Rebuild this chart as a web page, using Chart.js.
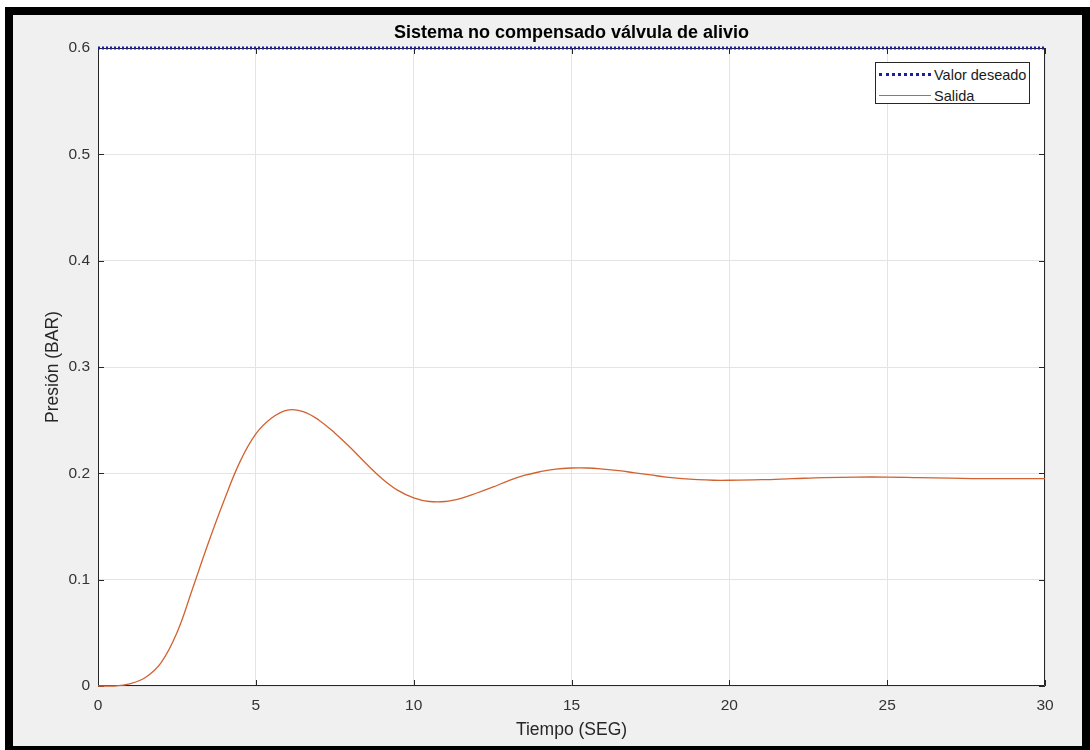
<!DOCTYPE html>
<html lang="es">
<head>
  <meta charset="UTF-8">
  <title>Sistema no compensado válvula de alivio</title>
  <script src="https://cdn.jsdelivr.net/npm/chart.js"></script>
  <style>
    html, body { margin: 0; padding: 0; background: #fff; overflow: hidden; }
    .marco { position: absolute; left: 5px; top: 7px; width: 1085px; height: 747px;
             box-sizing: border-box; border: 8px solid #000; background: #f0f0f0; }
    #grafico { position: absolute; left: 0; top: 0; }
    .leyenda { position: absolute; left: 875px; top: 62px; width: 155px; height: 42px;
               box-sizing: border-box; border: 1px solid #262626; background: #fff;
               font-family: "Liberation Sans", Arial, sans-serif; font-size: 14.5px; color: #1a1a1a; }
    .leyenda div { display: flex; align-items: center; height: 19px; margin-top: 2px; }
    .leyenda span.linea { display: inline-block; width: 52px; margin: 0 3px 0 3px; }
  </style>
</head>
<body>
  <div class="marco"></div>
  <canvas id="grafico" width="1090" height="750"></canvas>
  <div class="leyenda" id="leyenda"></div>

  <script>
    // datos
    const tiempo = [0, 0.5, 1, 1.5, 2, 2.5, 3, 3.5, 4, 4.5, 5, 5.5, 6, 6.5, 7, 7.5, 8, 8.5, 9, 9.5,
                    10, 10.5, 11, 11.5, 12, 12.5, 13, 13.5, 14, 14.5, 15, 15.5, 16, 16.5, 17, 17.5,
                    18, 18.5, 19, 19.5, 20, 21, 22, 23, 24, 25, 26, 27, 28, 29, 30];
    const salida = [0, 0, 0.002, 0.008, 0.022, 0.050, 0.092, 0.135, 0.175, 0.211, 0.237, 0.252, 0.2595, 0.258,
                    0.250, 0.238, 0.224, 0.209, 0.195, 0.184, 0.177, 0.1735, 0.1735, 0.1765, 0.1815, 0.187,
                    0.193, 0.198, 0.2015, 0.204, 0.205, 0.205, 0.204, 0.2025, 0.2005, 0.1985, 0.1965, 0.195,
                    0.194, 0.1935, 0.1935, 0.194, 0.195, 0.196, 0.1965, 0.1965, 0.196, 0.1955, 0.195, 0.195, 0.195];
    const tiempoDeseado = [0, 30];
    const valorDeseado = [0.6, 0.6];
    const ticksX = [0, 5, 10, 15, 20, 25, 30];
    const ticksY = [0, 0.1, 0.2, 0.3, 0.4, 0.5, 0.6];

    const fuente = '"Liberation Sans", Arial, sans-serif';

    // caja completa y marcas hacia adentro (estilo matlab)
    const cajaEjes = {
      id: 'cajaEjes',
      beforeDraw(chart) {
        const a = chart.chartArea, ctx = chart.ctx;
        ctx.save();
        ctx.fillStyle = '#fff';
        ctx.fillRect(a.left, a.top, a.right - a.left, a.bottom - a.top);
        ctx.restore();
      },
      beforeDatasetsDraw(chart) {
        const a = chart.chartArea, ctx = chart.ctx;
        const sx = chart.scales.x, sy = chart.scales.y;
        ctx.save();
        ctx.strokeStyle = '#262626';
        ctx.lineWidth = 1;
        ctx.beginPath();
        ctx.rect(a.left + 0.5, a.top + 0.5, a.right - a.left - 1, a.bottom - a.top - 1);
        ticksX.forEach(v => {
          const px = Math.round(sx.getPixelForValue(v)) + 0.5;
          ctx.moveTo(px, a.bottom); ctx.lineTo(px, a.bottom - 6);
          ctx.moveTo(px, a.top); ctx.lineTo(px, a.top + 6);
        });
        ticksY.forEach(v => {
          const py = Math.round(sy.getPixelForValue(v)) + 0.5;
          ctx.moveTo(a.left, py); ctx.lineTo(a.left + 6, py);
          ctx.moveTo(a.right, py); ctx.lineTo(a.right - 6, py);
        });
        ctx.stroke();
        ctx.restore();
      }
    };

    const chart = new Chart(document.getElementById('grafico'), {
      type: 'line',
      data: {
        datasets: [{
          label: 'Valor deseado',
          data: tiempoDeseado.map((t, i) => ({ x: t, y: valorDeseado[i] })),
          borderColor: '#1c1ca6',
          borderWidth: 3,
          borderDash: [2, 2],
          pointRadius: 0,
          clip: 6
        }, {
          label: 'Salida',
          data: tiempo.map((t, i) => ({ x: t, y: salida[i] })),
          borderColor: '#d2622f',
          borderWidth: 1.3,
          pointRadius: 0,
          tension: 0.4,
          clip: 6
        }]
      },
      options: {
        responsive: false,
        animation: false,
        layout: { padding: { left: 0, right: 45, top: 0, bottom: 0 } },
        plugins: {
          legend: { display: false },
          tooltip: { enabled: false },
          title: {
            display: true,
            fullSize: false,
            text: 'Sistema no compensado válvula de alivio',
            color: '#000',
            font: { family: fuente, size: 18, weight: 'bold' },
            padding: { top: 22, bottom: 4.4 }
          }
        },
        scales: {
          x: {
            type: 'linear',
            min: 0, max: 30,
            afterFit: s => { s.height = 64; },
            afterBuildTicks: s => { s.ticks = ticksX.map(v => ({ value: v })); },
            grid: { color: '#e4e4e4', drawTicks: false },
            border: { display: false },
            ticks: { color: '#333', font: { family: fuente, size: 15.5 }, padding: 10 },
            title: { display: true, text: 'Tiempo (SEG)', color: '#262626',
                     font: { family: fuente, size: 17.5 }, padding: { top: 0, bottom: 9.5 } }
          },
          y: {
            min: 0, max: 0.6,
            afterFit: s => { s.width = 98; },
            afterBuildTicks: s => { s.ticks = ticksY.map(v => ({ value: v })); },
            grid: { color: '#e4e4e4', drawTicks: false },
            border: { display: false },
            ticks: { color: '#333', font: { family: fuente, size: 15.5 }, padding: 8,
                     callback: v => String(+v.toFixed(1)) },
            title: { display: true, text: 'Presión (BAR)', color: '#262626',
                     font: { family: fuente, size: 17.5 }, padding: { top: 42.5, bottom: 0 } }
          }
        }
      },
      plugins: [cajaEjes]
    });

    // leyenda dentro del area, como en matlab
    const leyenda = document.getElementById('leyenda');
    const estilos = ['border-top: 3px dotted #1c1ca6;', 'border-top: 1px solid #d2622f;'];
    chart.data.datasets.forEach((ds, i) => {
      const fila = document.createElement('div');
      const linea = document.createElement('span');
      linea.className = 'linea';
      linea.style.cssText = estilos[i];
      const txt = document.createElement('span');
      txt.textContent = ds.label;
      fila.appendChild(linea);
      fila.appendChild(txt);
      leyenda.appendChild(fila);
    });
  </script>
</body>
</html>
